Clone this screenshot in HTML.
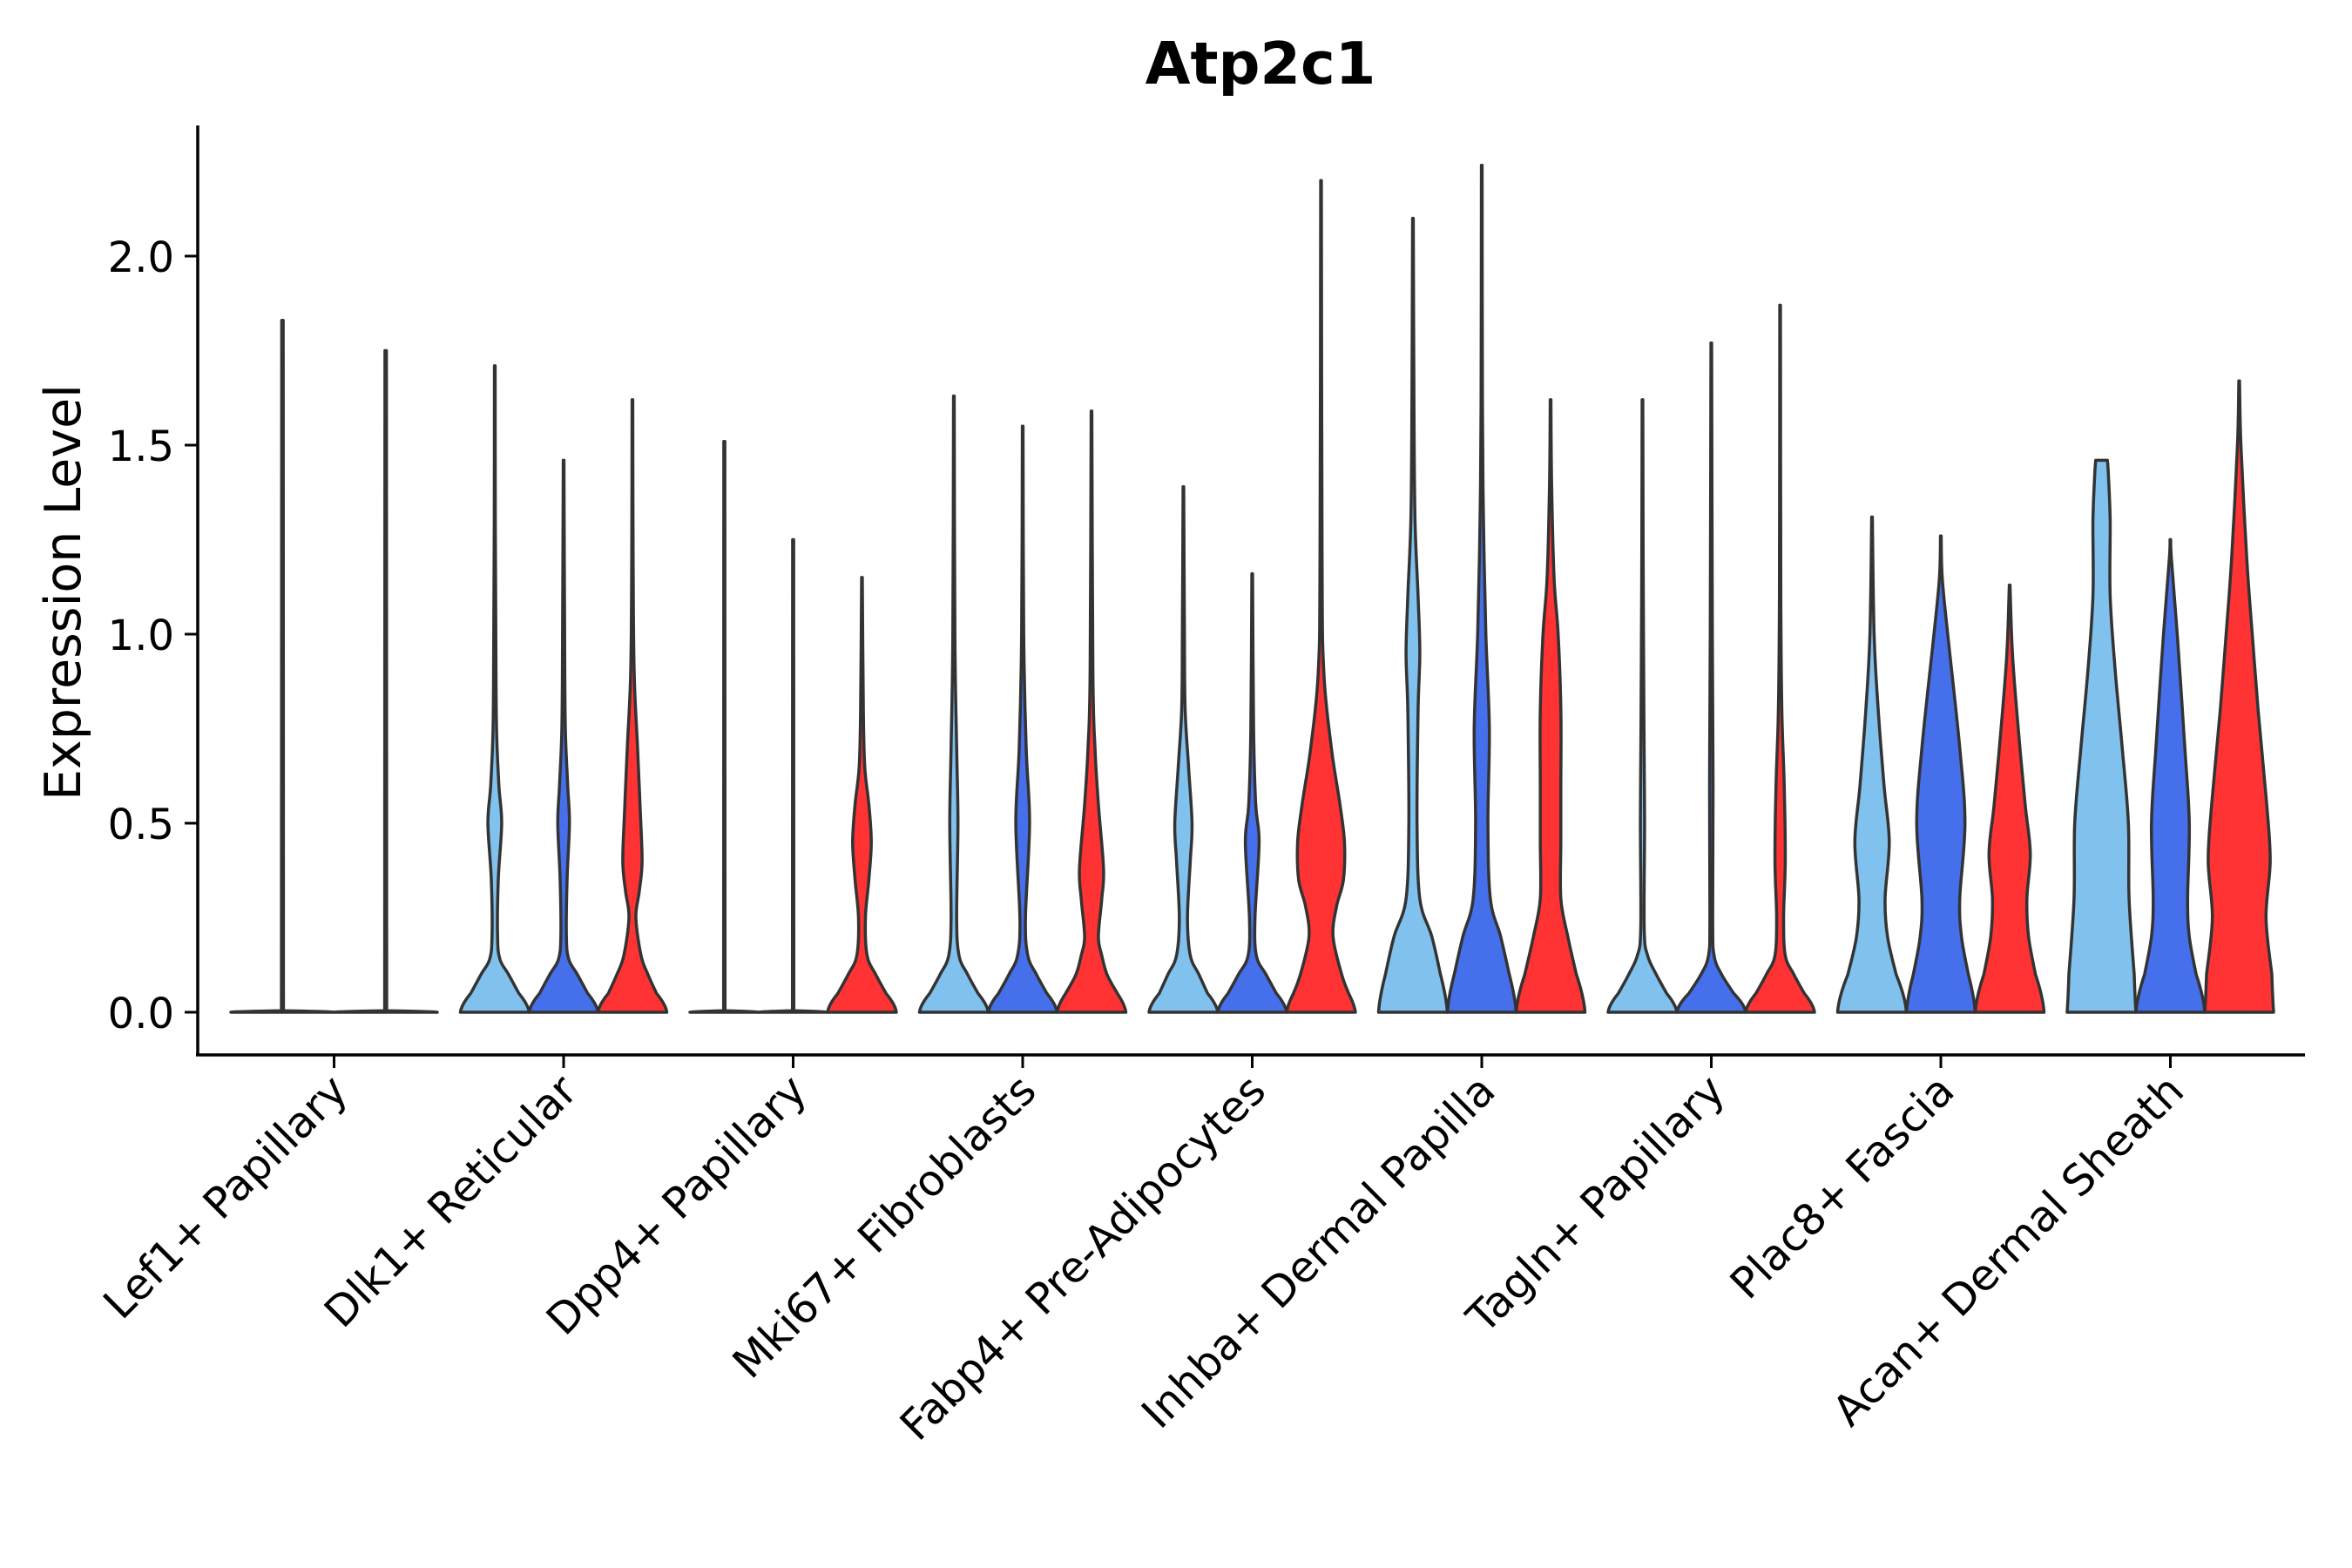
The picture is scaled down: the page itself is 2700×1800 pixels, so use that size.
<!DOCTYPE html>
<html><head><meta charset="utf-8"><style>
html,body{margin:0;padding:0;background:#fff}
svg{display:block;font-family:"DejaVu Sans","Liberation Sans",sans-serif}
</style></head><body>
<svg id="chart" width="2700" height="1800" viewBox="0 0 2700 1800" xmlns="http://www.w3.org/2000/svg">
<text x="1447" y="96" font-size="67" font-weight="bold" text-anchor="middle">Atp2c1</text>
<text transform="translate(92,680) rotate(-90)" font-size="57" text-anchor="middle">Expression Level</text>
<g id="plot"></g>
</svg>
<script>
const categories = ["Lef1+ Papillary","Dlk1+ Reticular","Dpp4+ Papillary","Mki67+ Fibroblasts","Fabp4+ Pre-Adipocytes","Inhba+ Dermal Papilla","Tagln+ Papillary","Plac8+ Fascia","Acan+ Dermal Sheath"];
const yTicks = [0,0.5,1.0,1.5,2.0];
const yTickLabels = ["0.0","0.5","1.0","1.5","2.0"];
const seriesColors = ["#80C1EE","#4670EB","#FF3333"];
// violin profiles: [value, relative half-width]
const lineProfile = m => [[0,1],[0.004,0.02],[m,0.015]];
const group0 = [{c:0, p:lineProfile(1.83)},{c:1, p:lineProfile(1.75)}];
const group1 = [
 {c:0,p:[[0,1],[0.05,0.7],[0.1,0.4],[0.14,0.15],[0.2,0.08],[0.35,0.1],[0.5,0.2],[0.6,0.12],[0.75,0.05],[1.0,0.03],[1.3,0.015],[1.71,0.01]]},
 {c:1,p:[[0,1],[0.05,0.7],[0.1,0.4],[0.14,0.15],[0.2,0.08],[0.35,0.1],[0.5,0.17],[0.6,0.12],[0.75,0.05],[1.0,0.03],[1.46,0.01]]},
 {c:2,p:[[0,1],[0.05,0.7],[0.1,0.45],[0.15,0.25],[0.25,0.1],[0.32,0.2],[0.4,0.28],[0.55,0.22],[0.7,0.15],[0.9,0.05],[1.2,0.02],[1.62,0.01]]}];
const group2 = [{c:0,p:lineProfile(1.51)},{c:1,p:lineProfile(1.25)},
 {c:2,p:[[0,1],[0.05,0.7],[0.1,0.4],[0.15,0.15],[0.25,0.1],[0.35,0.2],[0.45,0.27],[0.55,0.2],[0.65,0.08],[0.8,0.04],[1.15,0.01]]}];
const group3 = [
 {c:0,p:[[0,1],[0.05,0.7],[0.1,0.4],[0.15,0.15],[0.25,0.08],[0.5,0.12],[0.7,0.08],[1.0,0.03],[1.63,0.01]]},
 {c:1,p:[[0,1],[0.05,0.7],[0.1,0.4],[0.15,0.15],[0.25,0.08],[0.5,0.2],[0.7,0.1],[1.0,0.03],[1.55,0.01]]},
 {c:2,p:[[0,1],[0.05,0.75],[0.1,0.45],[0.15,0.3],[0.2,0.2],[0.3,0.3],[0.38,0.35],[0.55,0.2],[0.7,0.1],[0.9,0.04],[1.59,0.01]]}];
const group4 = [
 {c:0,p:[[0,1],[0.05,0.7],[0.1,0.45],[0.15,0.2],[0.25,0.12],[0.4,0.2],[0.5,0.25],[0.65,0.15],[0.8,0.05],[1.0,0.03],[1.39,0.01]]},
 {c:1,p:[[0,1],[0.05,0.7],[0.1,0.4],[0.15,0.12],[0.25,0.08],[0.45,0.2],[0.55,0.1],[0.75,0.04],[1.16,0.01]]},
 {c:2,p:[[0,1],[0.05,0.8],[0.1,0.6],[0.2,0.35],[0.28,0.45],[0.35,0.65],[0.45,0.68],[0.55,0.55],[0.7,0.3],[0.9,0.08],[1.2,0.03],[2.2,0.01]]}];
const group5 = [
 {c:0,p:[[0,1],[0.1,0.8],[0.2,0.55],[0.3,0.2],[0.5,0.12],[0.8,0.15],[0.95,0.2],[1.1,0.15],[1.3,0.06],[1.6,0.03],[2.1,0.01]]},
 {c:1,p:[[0,1],[0.1,0.8],[0.2,0.55],[0.3,0.25],[0.5,0.18],[0.75,0.22],[1.0,0.12],[1.3,0.05],[1.6,0.02],[2.24,0.01]]},
 {c:2,p:[[0,1],[0.1,0.75],[0.2,0.5],[0.3,0.3],[0.45,0.3],[0.6,0.3],[0.8,0.3],[1.0,0.22],[1.15,0.1],[1.4,0.03],[1.62,0.01]]}];
const group6 = [
 {c:0,p:[[0,1],[0.05,0.7],[0.1,0.4],[0.15,0.15],[0.22,0.05],[0.5,0.06],[0.8,0.04],[1.2,0.02],[1.62,0.01]]},
 {c:1,p:[[0,1],[0.05,0.65],[0.1,0.3],[0.15,0.08],[0.25,0.04],[0.6,0.05],[1.0,0.03],[1.77,0.01]]},
 {c:2,p:[[0,1],[0.05,0.7],[0.1,0.4],[0.15,0.15],[0.25,0.1],[0.4,0.15],[0.6,0.12],[0.8,0.05],[1.1,0.02],[1.87,0.01]]}];
const group7 = [
 {c:0,p:[[0,1],[0.1,0.7],[0.2,0.45],[0.3,0.38],[0.45,0.5],[0.6,0.35],[0.8,0.18],[1.0,0.06],[1.31,0.01]]},
 {c:1,p:[[0,1],[0.1,0.8],[0.2,0.6],[0.3,0.55],[0.5,0.7],[0.7,0.55],[1.0,0.2],[1.15,0.04],[1.26,0.01]]},
 {c:2,p:[[0,1],[0.1,0.75],[0.2,0.55],[0.3,0.5],[0.42,0.6],[0.55,0.45],[0.75,0.25],[0.95,0.08],[1.13,0.01]]}];
const group8 = [
 {c:0,p:[[0,1],[0.1,0.95],[0.3,0.8],[0.5,0.78],[0.7,0.6],[0.9,0.4],[1.1,0.25],[1.3,0.25],[1.42,0.2],[1.46,0.17]]},
 {c:1,p:[[0,1],[0.1,0.75],[0.2,0.55],[0.3,0.5],[0.5,0.55],[0.7,0.42],[1.0,0.2],[1.2,0.03],[1.25,0.01]]},
 {c:2,p:[[0,1],[0.1,0.95],[0.25,0.78],[0.4,0.9],[0.55,0.8],[0.8,0.55],[1.0,0.38],[1.2,0.22],[1.5,0.05],[1.67,0.01]]}];
const groups = [group0,group1,group2,group3,group4,group5,group6,group7,group8];

const NS="http://www.w3.org/2000/svg";
const plot=document.getElementById('plot');
const X0=383.5, DX=263.5, GROUPW=237, Y0=1162, PXU=434;
const AXB=1211, AXR=2646;
const xScale = i => X0 + i*DX;
const yScale = v => Y0 - v*PXU;
function mk(tag, attrs){const e=document.createElementNS(NS,tag);for(const k in attrs)e.setAttribute(k,attrs[k]);plot.appendChild(e);return e;}
const f = n => n.toFixed(1);
function crPath(pts){
  let d='';
  for(let i=0;i<pts.length-1;i++){
    const p0=pts[Math.max(0,i-1)],p1=pts[i],p2=pts[i+1],p3=pts[Math.min(pts.length-1,i+2)];
    const c1=[p1[0]+(p2[0]-p0[0])/6,p1[1]+(p2[1]-p0[1])/6];
    const c2=[p2[0]-(p3[0]-p1[0])/6,p2[1]-(p3[1]-p1[1])/6];
    d+=`C${f(c1[0])},${f(c1[1])} ${f(c2[0])},${f(c2[1])} ${f(p2[0])},${f(p2[1])}`;
  }
  return d;
}

groups.forEach((g,gi)=>{
  const n=g.length, slot=GROUPW/n, hw=slot/2;
  g.forEach((v,vi)=>{
    const cx = xScale(gi) - GROUPW/2 + slot*(vi+0.5);
    const right = v.p.map(([val,w])=>[cx+w*hw, yScale(val)]);
    const upR = right.slice(1);
    const downL = v.p.slice(1).reverse().map(([val,w])=>[cx-w*hw, yScale(val)]);
    const base = yScale(0);
    const a=upR[0], b=downL[downL.length-1];
    let d = `M${f(cx-hw)},${f(base)}L${f(cx+hw)},${f(base)}`;
    d += `Q${f(cx+hw*0.97)},${f((base+a[1])/2+ (base-a[1])*0.1)} ${f(a[0])},${f(a[1])}` + crPath(upR);
    d += `L${f(downL[0][0])},${f(downL[0][1])}` + crPath(downL);
    d += `Q${f(cx-hw*0.97)},${f((base+b[1])/2+ (base-b[1])*0.1)} ${f(cx-hw)},${f(base)}`;
    d += 'Z';
    const path = mk('path',{d:d,fill:seriesColors[v.c],stroke:'#333',"stroke-width":3.5,"stroke-linejoin":"round"});
    
    
  });
});

// axes
const yAxis = mk('line',{x1:227,y1:144,x2:227,y2:AXB+1,stroke:'#000',"stroke-width":3.5});


const xAxis = mk('line',{x1:225,y1:AXB,x2:AXR,y2:AXB,stroke:'#000',"stroke-width":3.5});



yTicks.forEach((t,i)=>{
  const y=yScale(t);
  const tk=mk('line',{x1:212,y1:y,x2:227,y2:y,stroke:'#000',"stroke-width":3});
  
  
  const tx=mk('text',{x:200,y:y+18,"font-size":48,"text-anchor":"end",fill:'#000'});
  tx.textContent=yTickLabels[i];
  
  
});
categories.forEach((c,i)=>{
  const x=xScale(i);
  const tk=mk('line',{x1:x,y1:AXB,x2:x,y2:AXB+15,stroke:'#000',"stroke-width":3});
  
  
  const tx=mk('text',{transform:`translate(${x+18},${AXB+44}) rotate(-45)`,"font-size":49,"text-anchor":"end",fill:'#000'});
  tx.textContent=c;
  
  
});
</script>
</body></html>
